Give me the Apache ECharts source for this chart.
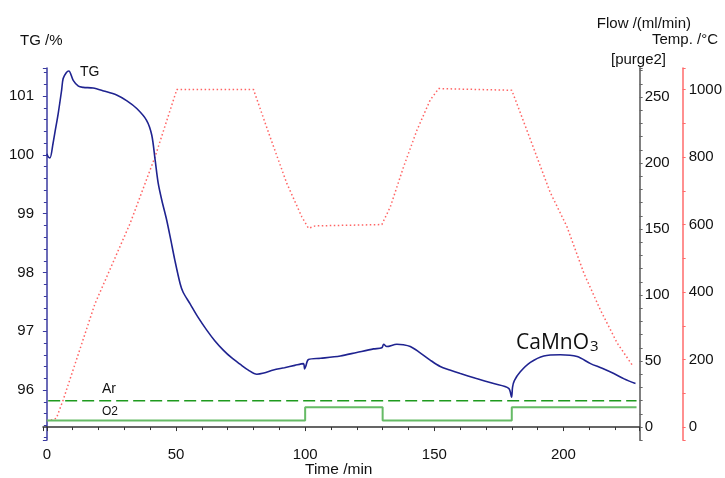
<!DOCTYPE html>
<html><head><meta charset="utf-8">
<script src="https://cdn.jsdelivr.net/npm/echarts@6/dist/echarts.min.js"></script>
<style>html,body{margin:0;padding:0;background:#fff}#c{width:725px;height:478px}</style>
</head><body><div id="c"></div>
<script>
// ---- data ----
const tgTime = [0, 0.5, 1.2, 2.4, 3.1, 4.4, 5.7, 6.3, 7.5, 8.5, 10.2, 12.2, 14.1, 17.9, 22, 27, 31, 34.8, 38.6, 40.6, 41.9, 43.1, 44.5, 46.4, 48, 49.5, 51.6, 52.8, 55.4, 58.5, 61.9, 65, 68.3, 71.5, 74.8, 78, 81.3, 84, 87.7, 92, 96, 99.3, 99.8, 100.2, 101.3, 106, 113.6, 120, 126.5, 129.7, 130.4, 131.6, 135.5, 138, 140.7, 144, 148.4, 152.3, 156, 160.1, 166, 173, 178.8, 179.9, 180.3, 181, 183.3, 187.2, 192.4, 198.8, 205.3, 210.5, 215, 219.5, 223.5, 227.9];
const tgValues = [100.02, 99.97, 99.95, 100.20, 100.38, 100.71, 101.10, 101.30, 101.40, 101.43, 101.27, 101.17, 101.15, 101.14, 101.09, 101.02, 100.92, 100.79, 100.59, 100.34, 99.92, 99.52, 99.23, 98.89, 98.55, 98.22, 97.81, 97.66, 97.47, 97.24, 97.02, 96.84, 96.68, 96.55, 96.44, 96.34, 96.27, 96.29, 96.34, 96.38, 96.42, 96.45, 96.36, 96.40, 96.52, 96.54, 96.58, 96.64, 96.70, 96.72, 96.78, 96.74, 96.78, 96.77, 96.74, 96.65, 96.51, 96.40, 96.34, 96.28, 96.20, 96.11, 96.03, 95.88, 96.05, 96.16, 96.31, 96.47, 96.58, 96.60, 96.57, 96.45, 96.37, 96.28, 96.19, 96.11];
const tempTime = [0, 2, 3.7, 6.3, 18.6, 32.2, 41.9, 50.3, 80, 86.4, 92.9, 98.7, 101.3, 103.9, 129.7, 133, 138.1, 143.3, 148.4, 151.7, 180, 180.7, 187.2, 194.9, 201.4, 207.9, 214.3, 220.8, 226.6];
const tempValues = [19, 21, 26, 80, 365, 603, 801, 1000, 1000, 860, 722, 623, 589, 596, 600, 653, 771, 880, 969, 1003, 998, 998, 852, 695, 593, 456, 347, 249, 184];
const arTime = [0.5, 228.3];
const arFlow = [20, 20];
const o2Time = [0, 100, 100, 130, 130, 180, 180, 228.3];
const o2Flow = [5, 5, 15, 15, 5, 5, 15, 15];
const xTicks = [0, 50, 100, 150, 200];
const tgTicks = [96, 97, 98, 99, 100, 101];
const flowTicks = [0, 50, 100, 150, 200, 250];
const tempTicks = [0, 200, 400, 600, 800, 1000];

const FONT = "'Liberation Sans', Arial, sans-serif";
const zip = (a, b) => a.map((v, i) => [v, b[i]]);
const fmt = list => v => (list.indexOf(Math.round(v * 1000) / 1000) >= 0 ? String(Math.round(v)) : '');

const chart = echarts.init(document.getElementById('c'), null, { renderer: 'canvas' });
const label = (list, margin) => ({ formatter: fmt(list), fontSize: 15, color: '#111', fontFamily: FONT, margin: margin });

chart.setOption({
  animation: false,
  backgroundColor: '#fff',
  grid: { left: 43, right: 85, top: 68, bottom: 38 },
  xAxis: {
    type: 'value', min: -1.5, max: 229.5,
    axisLine: { lineStyle: { color: '#333', width: 1.5 } },
    axisTick: { length: 4, lineStyle: { color: '#333' } },
    minorTick: { show: true, splitNumber: 5, length: 3, lineStyle: { color: '#333' } },
    splitLine: { show: false },
    axisLabel: label(xTicks, 7)
  },
  yAxis: [
    {
      type: 'value', position: 'left', min: 95.15, max: 101.48,
      axisLine: { show: true, lineStyle: { color: '#3a3aa0', width: 1.5 } },
      axisTick: { show: true, length: 4, lineStyle: { color: '#3a3aa0' } },
      minorTick: { show: true, splitNumber: 5, length: 3, lineStyle: { color: '#3a3aa0' } },
      splitLine: { show: false },
      axisLabel: label(tgTicks, 9)
    },
    {
      type: 'value', position: 'right', offset: 0, min: -9.8, max: 272,
      axisLine: { show: true, lineStyle: { color: '#808080', width: 2 } },
      axisTick: { show: true, length: 3, lineStyle: { color: '#666' } },
      minorTick: { show: true, splitNumber: 5, length: 3, lineStyle: { color: '#666' } },
      splitLine: { show: false },
      axisLabel: label(flowTicks, 5)
    },
    {
      type: 'value', position: 'right', offset: 43, min: -38.5, max: 1064,
      axisLine: { show: true, lineStyle: { color: '#ff6b6b', width: 1.5 } },
      axisTick: { show: true, length: 3, lineStyle: { color: '#ff6b6b' } },
      minorTick: { show: true, splitNumber: 2, length: 3, lineStyle: { color: '#ff6b6b' } },
      splitLine: { show: false },
      axisLabel: label(tempTicks, 6)
    }
  ],
  series: [
    {
      name: 'Temp', type: 'line', yAxisIndex: 2, showSymbol: false, symbol: 'none',
      data: zip(tempTime, tempValues),
      lineStyle: { color: 'rgba(255,60,60,0.8)', width: 1.5, type: [1.5, 2.5] }
    },
    {
      name: 'Ar', type: 'line', yAxisIndex: 1, showSymbol: false, symbol: 'none',
      data: zip(arTime, arFlow),
      lineStyle: { color: '#1e9a1e', width: 1.5, type: [12, 5] }
    },
    {
      name: 'O2', type: 'line', yAxisIndex: 1, showSymbol: false, symbol: 'none',
      data: zip(o2Time, o2Flow),
      lineStyle: { color: '#66bb66', width: 2 }
    },
    {
      name: 'TG', type: 'line', yAxisIndex: 0, showSymbol: false, symbol: 'none', smooth: 0.3,
      data: zip(tgTime, tgValues),
      lineStyle: { color: '#1f2390', width: 1.6 }
    }
  ],
  graphic: [
    { type: 'text', left: 20, top: 33, style: { text: 'TG /%', fontSize: 15, fontFamily: FONT, fill: '#111' } },
    { type: 'text', right: 34, top: 16, style: { text: 'Flow /(ml/min)', fontSize: 15, fontFamily: FONT, fill: '#111' } },
    { type: 'text', right: 7, top: 32, style: { text: 'Temp. /°C', fontSize: 15, fontFamily: FONT, fill: '#111' } },
    { type: 'text', left: 611, top: 52, style: { text: '[purge2]', fontSize: 15, fontFamily: FONT, fill: '#111' } },
    { type: 'text', left: 305, top: 462, style: { text: 'Time /min', fontSize: 15.5, fontFamily: FONT, fill: '#111' } },
    { type: 'text', left: 80, top: 65, style: { text: 'TG', fontSize: 14, fontFamily: FONT, fill: '#111' } },
    { type: 'text', left: 102, top: 382, style: { text: 'Ar', fontSize: 14, fontFamily: FONT, fill: '#111' } },
    { type: 'text', left: 102, top: 406, style: { text: 'O2', fontSize: 12, fontFamily: FONT, fill: '#111' } },
    { type: 'text', left: 516, top: 333, style: {
        text: '{a|CaMnO}{b|3}',
        rich: {
          a: { fontSize: 21, fontFamily: "'Open Sans', 'Noto Sans', sans-serif", fill: '#111' },
          b: { fontSize: 15, fontFamily: "'Open Sans', 'Noto Sans', sans-serif", fill: '#111', padding: [6, 0, 0, 1] }
        }
    } }
  ]
});
</script>
</body></html>
